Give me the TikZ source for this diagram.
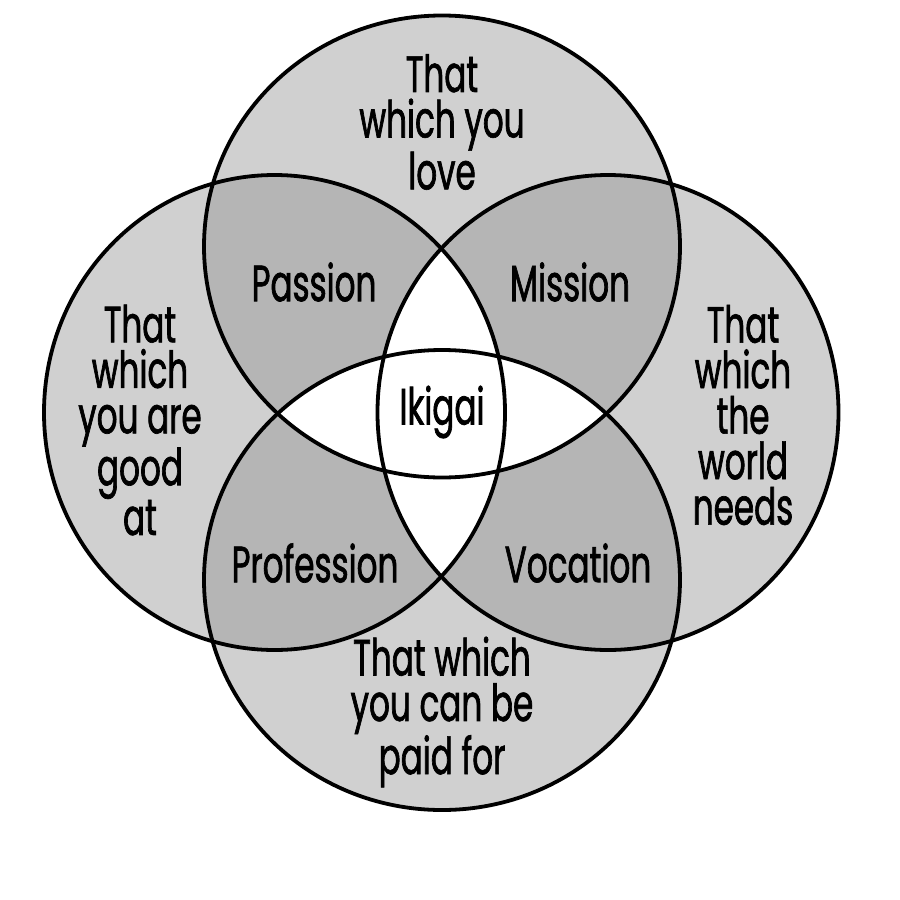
\documentclass[tikz,border=0pt]{standalone}
\usepackage{fontspec}
\newfontfamily\lblfont[FakeStretch=0.64,FakeBold=1.3]{Poppins}
\definecolor{lightg}{RGB}{208,208,208}
\definecolor{darkg}{RGB}{181,181,181}
\begin{document}
\begin{tikzpicture}[x=1pt,y=-1pt,
  ring/.style={draw=black,line width=3.8pt},
  lbl/.style={font=\lblfont\fontsize{51}{45.5}\selectfont,align=center,inner sep=0pt,text=black},
  ET/.style={insert path={(442,246.5) ellipse [x radius=238pt,y radius=231pt]}},
  EB/.style={insert path={(442,580) ellipse [x radius=238pt,y radius=230pt]}},
  EL/.style={insert path={(274.5,412.5) ellipse [x radius=230.5pt,y radius=237.5pt]}},
  ER/.style={insert path={(608,412.5) ellipse [x radius=230.5pt,y radius=237.5pt]}}]
\useasboundingbox (0,0) rectangle (900,900);
\fill[white] (0,0) rectangle (900,900);
% single regions
\fill[lightg,ET];
\fill[lightg,EB];
\fill[lightg,EL];
\fill[lightg,ER];
% pairwise overlaps
\begin{scope}\clip[ET]; \fill[darkg,EL]; \fill[darkg,ER]; \end{scope}
\begin{scope}\clip[EB]; \fill[darkg,EL]; \fill[darkg,ER]; \end{scope}
% triple overlaps
\begin{scope}\clip[EL]; \clip[ER]; \fill[white,ET]; \fill[white,EB]; \end{scope}
\begin{scope}\clip[ET]; \clip[EB]; \fill[white,EL]; \fill[white,ER]; \end{scope}
% outlines
\draw[ring,ET];
\draw[ring,EB];
\draw[ring,EL];
\draw[ring,ER];
% labels
\node[lbl] (love) at (442,122) {That\\which you\\love};
\node[lbl] (good) at (140,420) {That\\which\\you are\\good\\at};
\node[lbl] (world) at (743,415) {That\\which\\the\\world\\needs};
\node[lbl] (paid) at (442,712) {That which\\you can be\\paid for};
\node[lbl] (passion) at (314,282) {Passion};
\node[lbl] (mission) at (570,282) {Mission};
\node[lbl] (profession) at (315,563) {Profession};
\node[lbl] (vocation) at (578,563) {Vocation};
\node[lbl] (ikigai) at (442,412) {Ikigai};
\end{tikzpicture}
\end{document}
